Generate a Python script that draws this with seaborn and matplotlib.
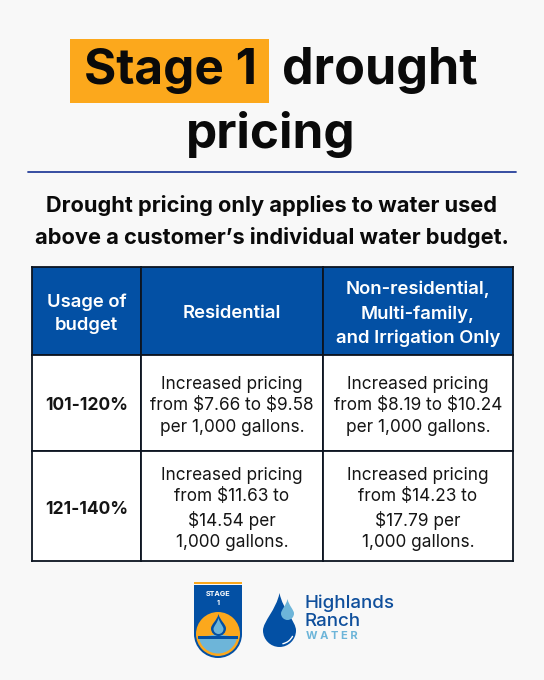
import numpy as np
import pandas as pd
import matplotlib
matplotlib.use('Agg')
import matplotlib.pyplot as plt
from matplotlib.path import Path
from matplotlib.patches import PathPatch, Rectangle, Circle, Wedge, Arc
from matplotlib.gridspec import GridSpec
import seaborn as sns

# Table content
columns = ['Usage of\nbudget', 'Residential', 'Non-residential,\nMulti-family,\nand Irrigation Only']
row_labels = ['101-120%', '121-140%']
residential = ['Increased pricing\nfrom \\$7.66 to \\$9.58\nper 1,000 gallons.',
               'Increased pricing\nfrom \\$11.63 to\n\\$14.54 per\n1,000 gallons.']
non_residential = ['Increased pricing\nfrom \\$8.19 to \\$10.24\nper 1,000 gallons.',
                   'Increased pricing\nfrom \\$14.23 to\n\\$17.79 per\n1,000 gallons.']

BLUE = '#0350a4'
ORANGE = '#fca81c'
LIGHT = '#6db5d9'
BG = '#f8f8f8'

sns.set_theme(style='white')
plt.rcParams['font.family'] = ['Inter', 'DejaVu Sans']

W, H = 544, 680
fig = plt.figure(figsize=(W / 100, H / 100), dpi=100, facecolor=BG)

# Full figure axes in pixel units for the heading and the logos
ax = fig.add_axes([0, 0, 1, 1])
ax.set_xlim(0, W)
ax.set_ylim(H, 0)
ax.axis('off')


def drop(x0, x1, top, bottom, **kw):
    cx = (x0 + x1) / 2
    r = (x1 - x0) / 2
    mid = bottom - r
    k = r * 0.55
    verts = [(cx, top),
             (cx + r * 0.2, top + (mid - top) * 0.45), (x1, mid - r * 0.55), (x1, mid),
             (x1, mid + k), (cx + k, bottom), (cx, bottom),
             (cx - k, bottom), (x0, mid + k), (x0, mid),
             (x0, mid - r * 0.55), (cx - r * 0.2, top + (mid - top) * 0.45), (cx, top),
             (cx, top)]
    codes = [Path.MOVETO] + [Path.CURVE4] * 12 + [Path.CLOSEPOLY]
    ax.add_patch(PathPatch(Path(verts, codes), **kw))


# Heading
ax.add_patch(Rectangle((70, 39), 199, 64, fc=ORANGE, ec='none'))
ax.text(171, 71, 'Stage 1', fontsize=35.6, fontweight='bold', color='#0a0a0a', ha='center', va='center')
ax.text(380, 71, 'drought', fontsize=36.2, fontweight='bold', color='#0a0a0a', ha='center', va='center')
ax.text(271, 134, 'pricing', fontsize=35.6, fontweight='bold', color='#0a0a0a', ha='center', va='center')
ax.plot([28, 516], [171.5, 171.5], color='#27409a', lw=1.3)
ax.text(272, 205, 'Drought pricing only applies to water used', fontsize=15.7, fontweight='bold',
        color='#0a0a0a', ha='center', va='center')
ax.text(272, 237, 'above a customer\u2019s individual water budget.', fontsize=15.7, fontweight='bold',
        color='#0a0a0a', ha='center', va='center')

# Table, one heatmap per cell because the rows and columns differ in size
left, right, top, bottom = 32 / W, 513 / W, 1 - 267 / H, 1 - 561 / H
heights = [88, 96, 110]
gs = GridSpec(3, 3, figure=fig, left=left, right=right, top=top, bottom=bottom, wspace=0, hspace=0,
              width_ratios=[109, 182, 190], height_ratios=heights)
table = [columns,
         [row_labels[0], residential[0], non_residential[0]],
         [row_labels[1], residential[1], non_residential[1]]]
for r, row in enumerate(table):
    for c, label in enumerate(row):
        cell = fig.add_subplot(gs[r, c])
        is_head = r == 0
        sns.heatmap(pd.DataFrame([[0]]), ax=cell, cbar=False, xticklabels=False, yticklabels=False,
                    cmap=[BLUE if is_head else '#ffffff'], annot=np.array([[label]]), fmt='',
                    annot_kws={'fontsize': 13.3 if is_head else (12.6 if c == 0 else 12.4),
                               'color': 'white' if is_head else '#151515',
                               'fontweight': 'semibold' if is_head else ('bold' if c == 0 else 'normal'),
                               'linespacing': 1.5 if is_head else 1.36})
        # annotations sit a little high, nudge them down to the reference position
        cell.texts[0].set_y(0.5 + 3 / heights[r])
        cell.set_xlabel('')
        cell.set_ylabel('')
        for s in cell.spines.values():
            s.set_visible(True)
            s.set_color('#0c1420')
            s.set_linewidth(1.3)

# Stage badge
ax.add_patch(Rectangle((194, 582), 48, 2, fc=ORANGE, ec='none'))
ax.add_patch(Rectangle((194, 585), 48, 50, fc=BLUE, ec='none'))
ax.add_patch(Circle((218, 634), 24, fc=BLUE, ec='none'))
ax.add_patch(Circle((218, 634), 22, fc=ORANGE, ec='none'))
ax.add_patch(Wedge((218, 634), 19.5, 10, 170, fc=LIGHT, ec='none'))
ax.add_patch(Rectangle((198, 636), 40, 3, fc=BLUE, ec='none'))
drop(211, 226, 614, 636, fc=BLUE, ec='none')
drop(213.5, 223.5, 618, 634, fc=LIGHT, ec='none')
ax.text(218, 594, 'STAGE', fontsize=5.2, fontweight='bold', color='white', ha='center', va='center')
ax.text(218, 603, '1', fontsize=5.2, fontweight='bold', color='white', ha='center', va='center')

# Highlands Ranch logo
drop(263, 296, 593, 647, fc=BLUE, ec='none')
drop(281, 294, 599, 620, fc=LIGHT, ec='none')
ax.add_patch(Arc((280, 630), 28, 28, theta1=25, theta2=80, color='white', lw=1))
ax.text(305, 603, 'Highlands', fontsize=13.5, fontweight='medium', color='#0f4f9c', ha='left', va='center')
ax.text(305, 621, 'Ranch', fontsize=13.5, fontweight='medium', color='#0f4f9c', ha='left', va='center')
ax.text(306, 636, 'W A T E R', fontsize=8.0, fontweight='bold', color=LIGHT, ha='left', va='center')

fig.savefig('out.png', dpi=100, facecolor=BG)
